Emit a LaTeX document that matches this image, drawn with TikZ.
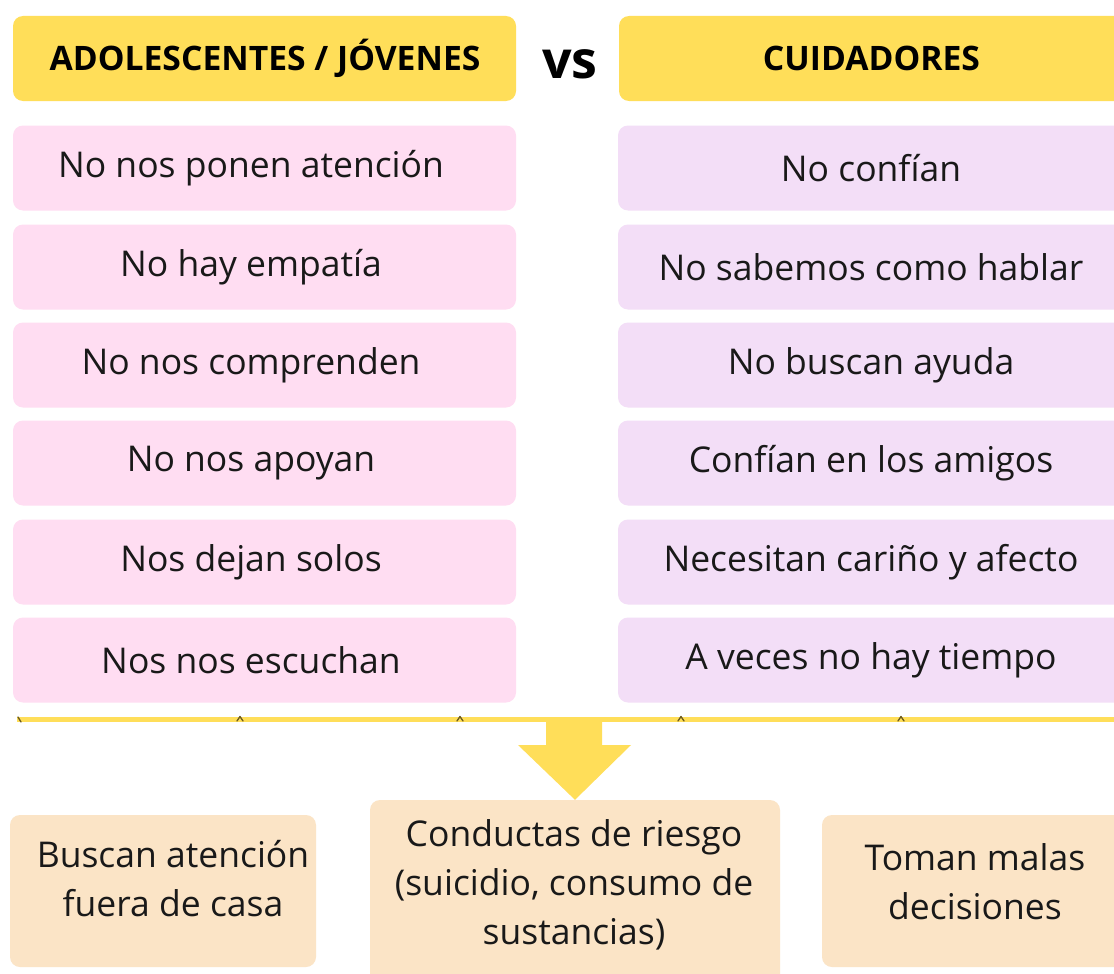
\documentclass[tikz,border=0pt]{standalone}
\usepackage{fontspec}
\setmainfont{Open Sans}
\definecolor{yel}{HTML}{FFDE59}
\definecolor{pinkc}{HTML}{FFDDF2}
\definecolor{purp}{HTML}{F3DEF7}
\definecolor{peach}{HTML}{FBE4C6}
\definecolor{tick}{HTML}{6B5A1E}
\newcommand{\bodyfont}{\fontsize{35.5}{49}\selectfont}
\newcommand{\hdrfont}{\fontsize{33.7}{38}\selectfont\bfseries}
\tikzset{
  card/.style={rounded corners=10pt, inner sep=0pt, draw=none},
  lcard/.style={card, fill=pinkc, minimum width=503pt, minimum height=85pt},
  rcard/.style={card, fill=purp, minimum width=506pt, minimum height=85pt},
  hcard/.style={card, fill=yel, minimum height=85pt},
  pcard/.style={card, fill=peach},
  txt/.style={inner sep=0pt, font=\bodyfont, text=black!90, align=center},
  htxt/.style={inner sep=0pt, font=\hdrfont, text=black},
  ticks/.style={draw=tick, line width=1.3pt, line cap=round, line join=round},
}
\begin{document}
\begin{tikzpicture}[x=1pt,y=-1pt]
\clip (0,0) rectangle (1114,974);
\fill[white] (0,0) rectangle (1114,974);
% headers
\node[hcard, minimum width=503pt] (hl) at (264.5,58.5) {};
\node[htxt] (hlt) at (265,58.5) {ADOLESCENTES / JÓVENES};
\node[hcard, minimum width=505pt] (hr) at (871.5,58.5) {};
\node[htxt] (hrt) at (871.5,58.5) {CUIDADORES};
\node[inner sep=0pt, font=\fontsize{52}{56}\selectfont\bfseries] (vs) at (570,64) {vs};
% left column
\foreach \i/\y/\t in {1/168/No nos ponen atención, 2/267/No hay empatía, 3/365/No nos comprenden, 4/463/No nos apoyan, 5/562/Nos dejan solos, 6/660/Nos nos escuchan}{
  \node[lcard] (l\i) at (264.5,\y) {};
  \node[txt] (l\i t) at (251,\y) {\t};
}
% right column
\foreach \i/\y/\t in {1/168/No confían, 2/267/No sabemos como hablar, 3/365/No buscan ayuda, 4/463/Confían en los amigos, 5/562/Necesitan cariño y afecto, 6/660/A veces no hay tiempo}{
  \node[rcard] (r\i) at (871,\y) {};
  \node[txt] (r\i t) at (871,\y) {\t};
}
% yellow line
\coordinate (ls) at (17,719.5);
\coordinate (le) at (1114,719.5);
\draw[yel, line width=5pt] (ls) -- (le);
\foreach \x in {240,460,681,901}{
  \draw[ticks] (\x-3,721) -- (\x,716.5) -- (\x+3,721);
}
\draw[ticks] (18,717) -- (21,722);
% bottom boxes
\node[pcard, minimum width=306pt, minimum height=152pt] (b1) at (163,891) {};
\node[txt] (b1t) at (173,879) {Buscan atención\\fuera de casa};
\node[pcard, minimum width=410pt, minimum height=184pt] (b2) at (575,892) {};
\node[txt] (b2t) at (574,885) {Conductas de riesgo\\(suicidio, consumo de\\sustancias)};
\node[pcard, minimum width=306pt, minimum height=152pt] (b3) at (975,891) {};
\node[txt] (b3t) at (975,881.5) {Toman malas\\decisiones};
% arrow from line to central box
\coordinate (at) at (574,721);
\fill[yel] ([xshift=-28pt]at) -- ([xshift=28pt]at) -- ([xshift=28pt,yshift=-24pt]at)
  -- ([xshift=57pt,yshift=-24pt]at) -- (b2.north) -- ([xshift=-56pt,yshift=-24pt]at)
  -- ([xshift=-28pt,yshift=-24pt]at) -- cycle;
\end{tikzpicture}
\end{document}
